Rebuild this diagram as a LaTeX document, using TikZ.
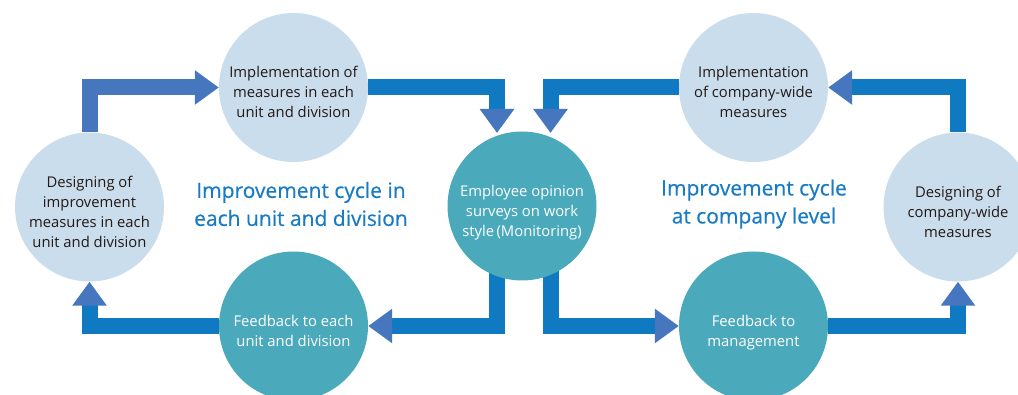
\documentclass[tikz,border=0pt]{standalone}
\usepackage{fontspec}
\setmainfont{Open Sans}
\newfontfamily\titlefont{Open Sans}[FakeBold=0.5]
\usetikzlibrary{arrows.meta,backgrounds}
\definecolor{lightc}{HTML}{CADDEC}
\definecolor{tealc}{HTML}{4AAABB}
\definecolor{barblue}{HTML}{0F79C2}
\definecolor{headblue}{HTML}{4677BE}
\definecolor{titleblue}{HTML}{1A7BC5}
\definecolor{darktext}{HTML}{231815}
\newcommand{\ctxt}[1]{\raisebox{-10pt}[0pt][0pt]{\begin{tabular}{@{}c@{}}#1\end{tabular}}}
\tikzset{
  circ/.style={circle, minimum size=149pt, inner sep=0pt, align=center,
    font=\fontsize{14.8}{20}\selectfont},
  lightcirc/.style={circ, fill=lightc, text=darktext},
  tealcirc/.style={circ, fill=tealc, text=white},
  bar/.style={line width=16pt, barblue, line join=miter,
    -{Triangle[width=33pt,length=24pt,color=headblue]}},
  title/.style={align=center, text=titleblue, font=\titlefont\fontsize{21}{28}\selectfont}
}
\begin{document}
\begin{tikzpicture}[x=1pt,y=-1pt]
\useasboundingbox (0,0) rectangle (1018,395);
\begin{scope}
\clip (0,0) rectangle (1018,395);
\node[lightcirc] (TL) at (293.5,87.5) {\ctxt{Implementation of\\measures in each\\unit and division}};
\node[lightcirc] (L) at (89.5,207) {\ctxt{Designing of\\improvement\\measures in each\\unit and division}};
\node[tealcirc] (BL) at (293.5,326) {\ctxt{Feedback to each\\unit and division}};
\node[tealcirc] (C) at (522,206) {\ctxt{Employee opinion\\surveys on work\\style\,(Monitoring)}};
\node[lightcirc] (TR) at (753.5,87.5) {\ctxt{Implementation\\of company-wide\\measures}};
\node[lightcirc] (R) at (958,207) {\ctxt{Designing of\\company-wide\\measures}};
\node[tealcirc] (BR) at (753.5,326) {\ctxt{Feedback to\\management}};

\coordinate (c1) at (497,133);
\coordinate (c2) at (550.5,133);
\coordinate (cL) at (497,206);
\coordinate (cR) at (550.5,206);

\begin{scope}[on background layer]
\draw[bar, headblue] (L) |- (TL.west);
\draw[bar] (TL) -| (c1);
\draw[bar] (cL) |- (BL.east);
\draw[bar] (BL) -| (L.south);
\draw[bar] (cR) |- (BR.west);
\draw[bar] (BR) -| (R.south);
\draw[bar] (R) |- (TR.east);
\draw[bar] (TR) -| (c2);
\end{scope}

\node[title] (T1) at (301,204) {Improvement cycle in\\each unit and division};
\node[title] (T2) at (754,204) {Improvement cycle\\at company level};
\end{scope}
\end{tikzpicture}
\end{document}
